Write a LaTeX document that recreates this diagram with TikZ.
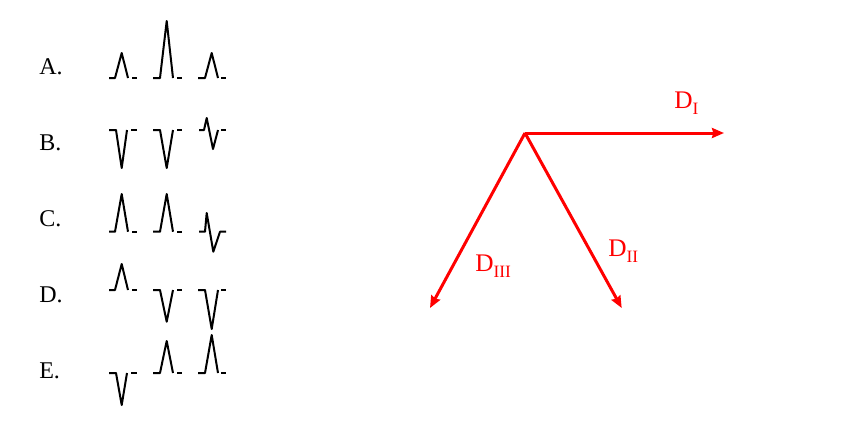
\documentclass[tikz,border=0pt]{standalone}
\usepackage{fontspec}
\setmainfont{Liberation Serif}
\usetikzlibrary{arrows.meta}

\tikzset{
  wave/.style={black, line width=1.5pt, line join=round},
  lead/.style={red, line width=2.25pt, ->},
  rowlabel/.style={anchor=base west, inner sep=0pt, font=\fontsize{18}{18}\selectfont},
  leadlabel/.style={anchor=base west, inner sep=0pt, red, font=\fontsize{19}{19}\selectfont}
}
\newcommand{\leadsub}[1]{{\fontsize{13}{13}\selectfont\raisebox{-5pt}{#1}}}

\begin{document}
\begin{tikzpicture}[x=0.75pt, y=-0.75pt, >={Stealth[length=9pt,width=7.5pt,inset=1pt]}]
\useasboundingbox (0,0) rectangle (845,437);

% row labels
\node[rowlabel] (labA) at (39,74) {A.};
\node[rowlabel] (labB) at (39,150) {B.};
\node[rowlabel] (labC) at (39,226) {C.};
\node[rowlabel] (labD) at (39,302) {D.};
\node[rowlabel] (labE) at (39,378) {E.};

% A
\draw[wave] (109,78) -- (115,78) -- (121.7,53) -- (128,78);
\draw[wave] (132,78) -- (137,78);
\draw[wave] (153,78) -- (160,78) -- (166.7,21) -- (173,78);
\draw[wave] (177,78) -- (182,78);
\draw[wave] (198,78) -- (205,78) -- (211.7,53) -- (218,78);
\draw[wave] (221,78) -- (226,78);

% B
\draw[wave] (109,130) -- (116,130) -- (121.7,168) -- (127,130);
\draw[wave] (131,130) -- (137,130);
\draw[wave] (153,130) -- (160,130) -- (166.7,168) -- (173,130);
\draw[wave] (177,130) -- (182,130);
\draw[wave] (199,130) -- (204,130) -- (206.7,118) -- (213,149) -- (218,130);
\draw[wave] (221,130) -- (226,130);

% C
\draw[wave] (109,231.7) -- (115,231.7) -- (121.7,194) -- (128,231.7);
\draw[wave] (132,231.7) -- (137,231.7);
\draw[wave] (153,231.7) -- (160,231.7) -- (166.7,194) -- (173,231.7);
\draw[wave] (177,231.7) -- (182,231.7);
\draw[wave] (199,231.7) -- (205,231.7) -- (206.7,213) -- (213.3,251.7) -- (220,231.7) -- (226,231.7);

% D
\draw[wave] (109,290) -- (115,290) -- (121.7,264) -- (128,290);
\draw[wave] (132,290) -- (137,290);
\draw[wave] (153,290) -- (160,290) -- (166.7,321.7) -- (173,290);
\draw[wave] (177,290) -- (182,290);
\draw[wave] (198,290) -- (205,290) -- (211.7,329) -- (218,290);
\draw[wave] (221,290) -- (226,290);

% E
\draw[wave] (109,373) -- (116,373) -- (121.7,405) -- (127,373);
\draw[wave] (131,373) -- (137,373);
\draw[wave] (153,373) -- (160,373) -- (166.7,341) -- (173,373);
\draw[wave] (177,373) -- (182,373);
\draw[wave] (198,373) -- (205,373) -- (211.7,335) -- (218,373);
\draw[wave] (221,373) -- (226,373);

% leads
\coordinate (O) at (525,133);
\coordinate (dI) at (724,133);
\coordinate (dII) at (621.7,308);
\coordinate (dIII) at (430,308);

\draw[lead] (O) -- (dI);
\draw[lead] (O) -- (dII);
\draw[lead] (O) -- (dIII);

\node[leadlabel] (labI) at (674,108) {D\leadsub{I}};
\node[leadlabel] (labII) at (608,256) {D\leadsub{II}};
\node[leadlabel] (labIII) at (475,271) {D\leadsub{III}};

\end{tikzpicture}
\end{document}
